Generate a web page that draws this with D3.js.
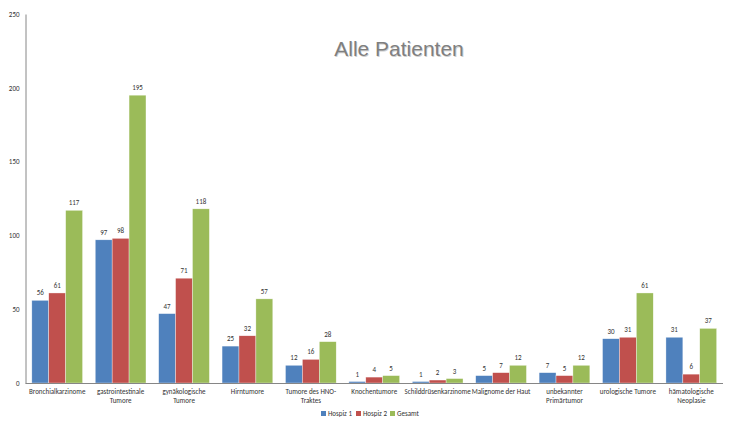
<!DOCTYPE html>
<html><head><meta charset="utf-8">
<script src="https://cdn.jsdelivr.net/npm/d3@7"></script>
<style>body{margin:0;background:#fff;}svg{display:block;}</style>
</head><body>
<svg id="c" width="731" height="430"></svg>
<script>
const categories = [["Bronchialkarzinome"],["gastrointestinale","Tumore"],["gynäkologische","Tumore"],["Hirntumore"],["Tumore des HNO-","Traktes"],["Knochentumore"],["Schilddrüsenkarzinome"],["Malignome der Haut"],["unbekannter","Primärtumor"],["urologische Tumore"],["hämatologische","Neoplasie"]];
const hospiz1 = [56,97,47,25,12,1,1,5,7,30,31];
const hospiz2 = [61,98,71,32,16,4,2,7,5,31,6];
const gesamt  = [117,195,118,57,28,5,3,12,12,61,37];
const seriesNames = ["Hospiz 1","Hospiz 2","Gesamt"];
const colors = ["#4F81BD","#C0504D","#9BBB59"];
const yTicks = [0,50,100,150,200,250];
const title = "Alle Patienten";

(function(){
const series = [hospiz1, hospiz2, gesamt];
const svg = d3.select("#c");
const font = "Calibri, Carlito, 'Liberation Sans', Arial, sans-serif";
const mLeft = 25.5, mRight = 723, mTop = 14, mBottom = 383;

const x0 = d3.scaleBand().domain(d3.range(categories.length)).range([mLeft, mRight]).paddingInner(0.2).paddingOuter(0.1);
const x1 = d3.scaleBand().domain(d3.range(3)).range([0, x0.bandwidth()]);
const y = d3.scaleLinear().domain([0,250]).range([mBottom, mTop]);

const ya = svg.append("g").attr("transform", `translate(${mLeft},0)`)
  .call(d3.axisLeft(y).tickValues(yTicks).tickSize(0).tickPadding(6));
ya.select(".domain").attr("stroke","#868686").attr("stroke-width",1);
ya.selectAll("text").attr("font-family",font).attr("font-size",7).attr("fill","#333");

const groups = svg.append("g").selectAll("g").data(categories).join("g")
  .attr("transform",(d,i)=>`translate(${x0(i)},0)`);
groups.each(function(d,i){
  const g = d3.select(this);
  series.forEach((s,j)=>{
    g.append("rect").attr("x",x1(j)).attr("width",x1.bandwidth())
      .attr("y",y(s[i])).attr("height",mBottom - y(s[i]))
      .attr("fill",colors[j]).attr("stroke","#fff").attr("stroke-width",0.5).attr("stroke-opacity",0.7);
    g.append("text").attr("x",x1(j)+x1.bandwidth()/2).attr("y",y(s[i])-5)
      .attr("text-anchor","middle").attr("font-family",font).attr("font-size",7).attr("fill","#333")
      .text(s[i]);
  });
});

const xa = svg.append("g").attr("transform",`translate(0,${mBottom})`)
  .call(d3.axisBottom(x0).tickSize(0).tickFormat(""));
xa.select(".domain").attr("stroke","#868686").attr("stroke-width",1).attr("d",`M${mLeft},0.5H${mRight}`);
categories.forEach((lines,i)=>{
  const cx = x0(i)+x0.bandwidth()/2;
  const t = svg.append("text").attr("x",cx).attr("y",mBottom+11)
    .attr("text-anchor","middle").attr("font-family",font).attr("font-size",7).attr("fill","#333");
  lines.forEach((l,k)=>t.append("tspan").attr("x",cx).attr("dy",k?9:0).text(l));
});

svg.append("text").attr("x",399).attr("y",56).attr("text-anchor","middle")
  .attr("font-family","'Liberation Sans', Arial, sans-serif").attr("font-size",21)
  .attr("fill","#d0d0d0").attr("transform","translate(0.8,0.8)").text(title);
svg.append("text").attr("x",399).attr("y",56).attr("text-anchor","middle")
  .attr("font-family","'Liberation Sans', Arial, sans-serif").attr("font-size",21)
  .attr("fill","#7f7f7f").text(title);

const legX = [321, 356, 390];
seriesNames.forEach((n,j)=>{
  svg.append("rect").attr("x",legX[j]).attr("y",411).attr("width",5).attr("height",5).attr("fill",colors[j]);
  svg.append("text").attr("x",legX[j]+7).attr("y",416).attr("font-family",font).attr("font-size",7).attr("fill","#333").text(n);
});
})();
</script>
</body></html>
